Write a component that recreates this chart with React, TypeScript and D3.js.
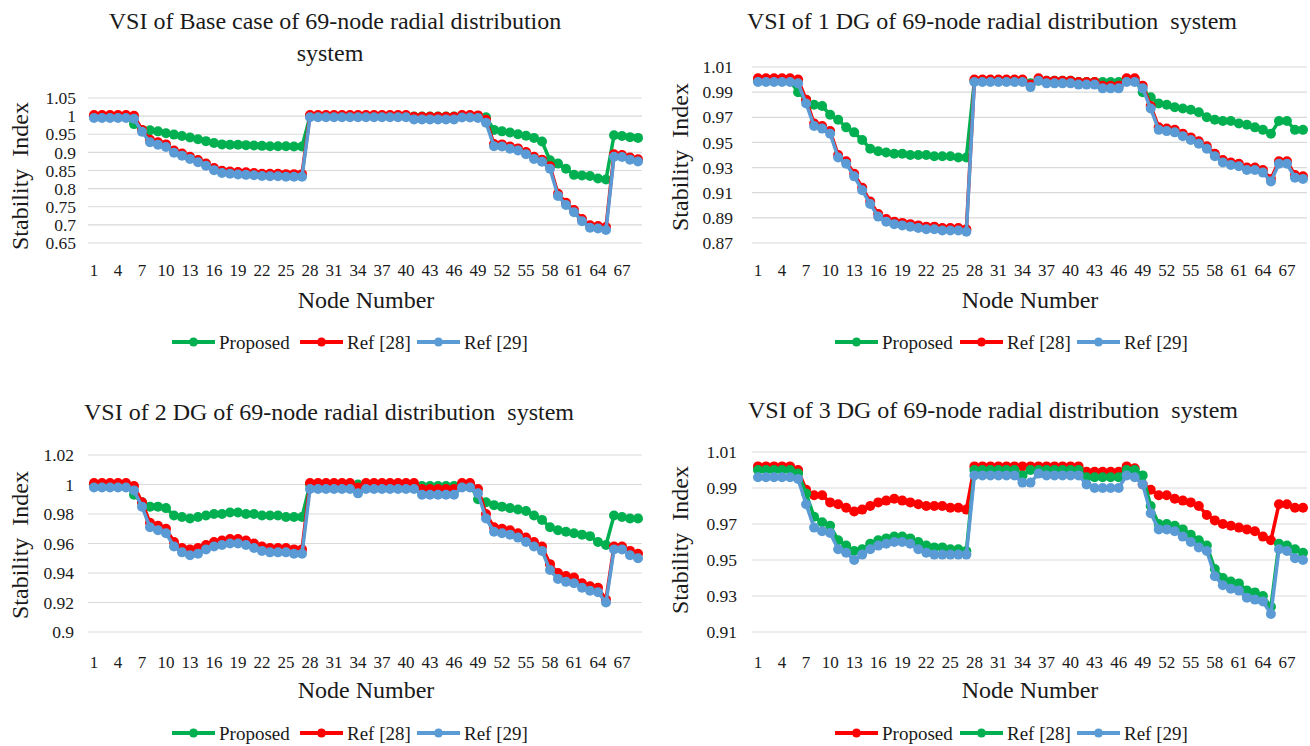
import React from "react";
import * as d3 from "d3";

// node numbers 1..69 and the labels shown on the x axis
const nodes = d3.range(1, 70);
const nodeTicks = [1, 4, 7, 10, 13, 16, 19, 22, 25, 28, 31, 34, 37, 40, 43, 46, 49, 52, 55, 58, 61, 64, 67];

const baseTicks = [0.65, 0.7, 0.75, 0.8, 0.85, 0.9, 0.95, 1, 1.05];
const oneDgTicks = [0.87, 0.89, 0.91, 0.93, 0.95, 0.97, 0.99, 1.01];
const twoDgTicks = [0.9, 0.92, 0.94, 0.96, 0.98, 1, 1.02];
const threeDgTicks = [0.91, 0.93, 0.95, 0.97, 0.99, 1.01];

// base case
const baseProposed = [
  1.0, 1.0, 1.0, 1.0, 1.0, 0.978, 0.962, 0.961, 0.958, 0.953,
  0.949, 0.945, 0.941, 0.936, 0.931, 0.926, 0.922, 0.921, 0.921, 0.92,
  0.919, 0.918, 0.917, 0.917, 0.917, 0.916, 0.916, 1.0, 1.0, 1.0,
  1.0, 1.0, 1.0, 1.0, 1.0, 1.0, 1.0, 1.0, 1.0, 1.0,
  0.999, 0.999, 0.999, 0.999, 0.999, 0.999, 1.0, 1.0, 1.0, 0.997,
  0.962, 0.958, 0.955, 0.95, 0.946, 0.94, 0.93, 0.878, 0.869, 0.855,
  0.838, 0.836, 0.835, 0.828, 0.825, 0.947, 0.945, 0.942, 0.94,
];
const baseRef28 = [
  1.003, 1.003, 1.003, 1.003, 1.003, 1.001, 0.962, 0.935, 0.928, 0.922,
  0.905, 0.897, 0.888, 0.879, 0.869, 0.857, 0.849, 0.847, 0.846, 0.845,
  0.843, 0.841, 0.841, 0.841, 0.84, 0.84, 0.84, 1.003, 1.003, 1.003,
  1.003, 1.003, 1.003, 1.003, 1.003, 1.003, 1.003, 1.003, 1.003, 1.003,
  0.998, 0.998, 0.998, 0.998, 0.998, 0.998, 1.003, 1.003, 1.002, 0.99,
  0.923, 0.922, 0.916, 0.911, 0.901, 0.888, 0.88, 0.862, 0.786, 0.761,
  0.741, 0.716, 0.699, 0.697, 0.694, 0.895, 0.893, 0.886, 0.881,
];
const baseRef29 = [
  0.995, 0.995, 0.995, 0.995, 0.995, 0.993, 0.957, 0.928, 0.921, 0.915,
  0.899, 0.891, 0.882, 0.873, 0.863, 0.851, 0.843, 0.841, 0.839, 0.838,
  0.837, 0.835, 0.834, 0.834, 0.833, 0.833, 0.833, 0.997, 0.997, 0.997,
  0.997, 0.997, 0.997, 0.997, 0.997, 0.997, 0.997, 0.997, 0.997, 0.997,
  0.991, 0.991, 0.991, 0.991, 0.991, 0.991, 0.996, 0.996, 0.995, 0.982,
  0.917, 0.916, 0.91, 0.905, 0.895, 0.882, 0.874, 0.855, 0.78, 0.755,
  0.735, 0.71, 0.692, 0.69, 0.686, 0.888, 0.887, 0.88, 0.875,
];

// 1 DG
const oneDgProposed = [
  0.999, 0.999, 0.999, 0.999, 0.999, 0.99, 0.984, 0.98, 0.979, 0.972,
  0.968, 0.962, 0.958, 0.952, 0.945, 0.943, 0.942, 0.941, 0.941, 0.94,
  0.94, 0.94, 0.939, 0.939, 0.939, 0.938, 0.938, 0.999, 0.999, 0.999,
  0.999, 0.999, 0.999, 0.999, 0.997, 0.999, 0.999, 0.999, 0.999, 0.999,
  0.998, 0.998, 0.998, 0.998, 0.998, 0.998, 1.0, 1.0, 0.99, 0.986,
  0.981, 0.98, 0.978, 0.977, 0.976, 0.974, 0.97, 0.968, 0.967, 0.967,
  0.965, 0.964, 0.962, 0.96, 0.957, 0.967, 0.967, 0.96, 0.96,
];
const oneDgRef28 = [
  1.001, 1.001, 1.001, 1.001, 1.001, 1.0, 0.984, 0.965, 0.963, 0.959,
  0.94, 0.935, 0.925, 0.914, 0.903, 0.893, 0.889, 0.887, 0.886, 0.885,
  0.884, 0.883, 0.883, 0.882, 0.882, 0.882, 0.881, 1.0, 1.0, 1.0,
  1.0, 1.0, 1.0, 1.0, 0.996, 1.001, 0.999, 0.999, 0.999, 0.999,
  0.998, 0.998, 0.998, 0.995, 0.995, 0.995, 1.001, 1.001, 0.995, 0.979,
  0.962, 0.961, 0.96, 0.957, 0.954, 0.951, 0.947, 0.941, 0.936, 0.934,
  0.933, 0.93, 0.93, 0.928, 0.921, 0.935, 0.935, 0.924, 0.923,
];
const oneDgRef29 = [
  0.998, 0.998, 0.998, 0.998, 0.998, 0.997, 0.981, 0.963, 0.961, 0.957,
  0.938, 0.933, 0.923, 0.912, 0.901, 0.891, 0.887, 0.885, 0.884, 0.883,
  0.882, 0.881, 0.881, 0.88, 0.88, 0.88, 0.879, 0.998, 0.998, 0.998,
  0.998, 0.998, 0.998, 0.998, 0.994, 0.999, 0.997, 0.997, 0.997, 0.997,
  0.996, 0.996, 0.996, 0.993, 0.993, 0.993, 0.998, 0.998, 0.993, 0.977,
  0.96, 0.959, 0.958, 0.955, 0.952, 0.949, 0.945, 0.939, 0.934, 0.932,
  0.931, 0.928, 0.928, 0.926, 0.919, 0.933, 0.933, 0.922, 0.921,
];

// 2 DG
const twoDgProposed = [
  1.0, 1.0, 1.0, 1.0, 1.0, 0.993, 0.988, 0.985, 0.985, 0.984,
  0.979, 0.978, 0.977, 0.978, 0.979, 0.98, 0.98, 0.981, 0.981, 0.98,
  0.98, 0.979, 0.979, 0.979, 0.978, 0.978, 0.978, 1.0, 1.0, 1.0,
  1.0, 1.0, 1.0, 1.0, 1.0, 1.0, 1.0, 1.0, 1.0, 1.0,
  1.0, 0.999, 0.999, 0.999, 0.999, 0.999, 1.0, 1.0, 0.99, 0.988,
  0.986, 0.985, 0.984, 0.983, 0.982, 0.979, 0.976, 0.971, 0.969, 0.968,
  0.967, 0.966, 0.965, 0.961, 0.959, 0.979, 0.978, 0.977, 0.977,
];
const twoDgRef28 = [
  1.001, 1.001, 1.001, 1.001, 1.001, 0.999, 0.988, 0.974, 0.972, 0.97,
  0.961, 0.957, 0.956, 0.957, 0.959, 0.961, 0.962, 0.963, 0.963, 0.962,
  0.96, 0.958, 0.957, 0.957, 0.957, 0.956, 0.956, 1.001, 1.001, 1.001,
  1.001, 1.001, 1.001, 0.998, 1.001, 1.001, 1.001, 1.001, 1.001, 1.001,
  1.001, 0.997, 0.997, 0.997, 0.997, 0.997, 1.001, 1.001, 0.997, 0.98,
  0.971, 0.97, 0.969, 0.967, 0.964, 0.961, 0.958, 0.946, 0.94, 0.938,
  0.937, 0.933, 0.931, 0.93, 0.922, 0.958, 0.958, 0.955, 0.953,
];
const twoDgRef29 = [
  0.998, 0.998, 0.998, 0.998, 0.998, 0.996, 0.985, 0.971, 0.969, 0.967,
  0.958, 0.954, 0.952, 0.953, 0.956, 0.958, 0.959, 0.96, 0.96, 0.959,
  0.957, 0.955, 0.954, 0.954, 0.954, 0.953, 0.953, 0.997, 0.997, 0.997,
  0.997, 0.997, 0.997, 0.994, 0.997, 0.997, 0.997, 0.997, 0.997, 0.997,
  0.997, 0.993, 0.993, 0.993, 0.993, 0.993, 0.998, 0.998, 0.994, 0.977,
  0.968, 0.967, 0.966, 0.964, 0.961, 0.958, 0.955, 0.942, 0.936, 0.934,
  0.933, 0.93, 0.928, 0.927, 0.92, 0.956, 0.956, 0.952, 0.95,
];

// 3 DG
const threeDgProposed = [
  1.002, 1.002, 1.002, 1.002, 1.002, 1.0, 0.989, 0.986, 0.986, 0.982,
  0.981, 0.979, 0.977, 0.978, 0.98, 0.982, 0.983, 0.984, 0.983, 0.982,
  0.981, 0.98, 0.98, 0.98, 0.979, 0.979, 0.978, 1.002, 1.002, 1.002,
  1.002, 1.002, 1.002, 1.002, 1.002, 1.002, 1.002, 1.002, 1.002, 1.002,
  1.002, 0.999, 0.999, 0.999, 0.999, 0.999, 1.002, 1.001, 0.992, 0.989,
  0.986, 0.986, 0.984, 0.983, 0.982, 0.98, 0.975, 0.972, 0.97, 0.969,
  0.968, 0.967, 0.966, 0.963, 0.961, 0.981, 0.981, 0.979, 0.979,
];
const threeDgRef28 = [
  1.0, 1.0, 1.0, 1.0, 1.0, 0.998, 0.987, 0.974, 0.971, 0.969,
  0.961, 0.958, 0.955, 0.956, 0.959, 0.961, 0.962, 0.963, 0.963, 0.962,
  0.96, 0.958, 0.957, 0.957, 0.956, 0.956, 0.955, 1.0, 1.0, 1.0,
  1.0, 1.0, 1.0, 0.997, 1.0, 1.0, 1.0, 1.0, 1.0, 1.0,
  1.0, 0.996, 0.996, 0.996, 0.996, 0.996, 1.0, 1.0, 0.997, 0.98,
  0.97, 0.97, 0.969, 0.967, 0.964, 0.961, 0.958, 0.945, 0.94, 0.938,
  0.937, 0.933, 0.932, 0.93, 0.924, 0.959, 0.958, 0.956, 0.954,
];
const threeDgRef29 = [
  0.996, 0.996, 0.996, 0.996, 0.996, 0.995, 0.981, 0.968, 0.966, 0.965,
  0.956, 0.954, 0.95, 0.953, 0.956, 0.958, 0.959, 0.96, 0.96, 0.959,
  0.956, 0.954, 0.953, 0.953, 0.953, 0.953, 0.953, 0.997, 0.997, 0.997,
  0.997, 0.997, 0.997, 0.993, 0.993, 0.998, 0.997, 0.997, 0.997, 0.997,
  0.997, 0.992, 0.99, 0.99, 0.99, 0.99, 0.997, 0.996, 0.992, 0.976,
  0.967, 0.967, 0.966, 0.963, 0.96, 0.957, 0.955, 0.941, 0.936, 0.934,
  0.933, 0.929, 0.928, 0.927, 0.92, 0.956, 0.955, 0.951, 0.95,
];

const GREEN = "#00B050";
const RED = "#FF0000";
const BLUE = "#5B9BD5";
const GRID = "#D9D9D9";
const FONT = "Liberation Serif, Times New Roman, serif";

type Series = { name: string; values: number[]; color: string };
type PanelCfg = {
  titles: { text: string; x: number; y: number }[];
  left: number;
  right: number;
  top: number;
  bottom: number;
  yDomain: [number, number];
  yTicks: number[];
  tickX: number;
  yTitle: [number, number];
  xTitle: [number, number];
  xTickY: number;
  legendY: number;
  legendX: number[];
  series: Series[];
};

const panels: PanelCfg[] = [
  {
    titles: [
      { text: "VSI of Base case of 69-node radial distribution", x: 335, y: 29 },
      { text: "system", x: 330, y: 61 },
    ],
    left: 90, right: 642, top: 98, bottom: 243,
    yDomain: [0.65, 1.05], yTicks: baseTicks, tickX: 76,
    yTitle: [20, 176], xTitle: [366, 308], xTickY: 276,
    legendY: 342, legendX: [172, 300, 417],
    series: [
      { name: "Proposed", values: baseProposed, color: GREEN },
      { name: "Ref [28]", values: baseRef28, color: RED },
      { name: "Ref [29]", values: baseRef29, color: BLUE },
    ],
  },
  {
    titles: [{ text: "VSI of 1 DG of 69-node radial distribution  system", x: 992, y: 29 }],
    left: 754, right: 1307, top: 67, bottom: 243,
    yDomain: [0.87, 1.01], yTicks: oneDgTicks, tickX: 733,
    yTitle: [680, 157], xTitle: [1030, 308], xTickY: 276,
    legendY: 342, legendX: [835, 960, 1077],
    series: [
      { name: "Proposed", values: oneDgProposed, color: GREEN },
      { name: "Ref [28]", values: oneDgRef28, color: RED },
      { name: "Ref [29]", values: oneDgRef29, color: BLUE },
    ],
  },
  {
    titles: [{ text: "VSI of 2 DG of 69-node radial distribution  system", x: 329, y: 420 }],
    left: 90, right: 642, top: 455, bottom: 632,
    yDomain: [0.9, 1.02], yTicks: twoDgTicks, tickX: 74,
    yTitle: [20, 545], xTitle: [366, 698], xTickY: 668,
    legendY: 733, legendX: [172, 300, 417],
    series: [
      { name: "Proposed", values: twoDgProposed, color: GREEN },
      { name: "Ref [28]", values: twoDgRef28, color: RED },
      { name: "Ref [29]", values: twoDgRef29, color: BLUE },
    ],
  },
  {
    titles: [{ text: "VSI of 3 DG of 69-node radial distribution  system", x: 993, y: 418 }],
    left: 754, right: 1307, top: 452, bottom: 632,
    yDomain: [0.91, 1.01], yTicks: threeDgTicks, tickX: 737,
    yTitle: [680, 540], xTitle: [1030, 698], xTickY: 668,
    legendY: 733, legendX: [835, 960, 1077],
    series: [
      { name: "Proposed", values: threeDgProposed, color: RED },
      { name: "Ref [28]", values: threeDgRef28, color: GREEN },
      { name: "Ref [29]", values: threeDgRef29, color: BLUE },
    ],
  },
];

const fmt = (v: number) => String(Number(v.toFixed(2)));

const txt = { fontFamily: FONT, whiteSpace: "pre" as const };

const Panel = ({ cfg }: { cfg: PanelCfg }) => {
  const x = d3.scaleBand<number>().domain(nodes).range([cfg.left, cfg.right]);
  const cx = (n: number) => (x(n) as number) + x.bandwidth() / 2;
  const y = d3.scaleLinear().domain(cfg.yDomain).range([cfg.bottom, cfg.top]);
  const line = d3
    .line<number>()
    .x((_, i) => cx(nodes[i]))
    .y((v) => y(v));

  return (
    <g>
      {cfg.titles.map((t) => (
        <text key={t.text} x={t.x} y={t.y} textAnchor="middle" fontSize={24} style={txt}>
          {t.text}
        </text>
      ))}
      {cfg.yTicks.map((t) => (
        <g key={t}>
          <line x1={cfg.left - 2} x2={cfg.right} y1={y(t)} y2={y(t)} stroke={GRID} strokeWidth={1.2} />
          <text x={cfg.tickX} y={y(t)} dy="0.35em" textAnchor="end" fontSize={17.5} style={txt}>
            {fmt(t)}
          </text>
        </g>
      ))}
      {nodeTicks.map((n) => (
        <text key={n} x={cx(n)} y={cfg.xTickY} textAnchor="middle" fontSize={17} style={txt}>
          {n}
        </text>
      ))}
      <text
        transform={`translate(${cfg.yTitle[0]},${cfg.yTitle[1]}) rotate(-90)`}
        dy="0.35em"
        textAnchor="middle"
        fontSize={24}
        style={txt}
      >
        {"Stability  Index"}
      </text>
      <text x={cfg.xTitle[0]} y={cfg.xTitle[1]} textAnchor="middle" fontSize={24} style={txt}>
        Node Number
      </text>
      {cfg.series.map((s) => (
        <g key={s.name}>
          <path d={line(s.values) || ""} fill="none" stroke={s.color} strokeWidth={3.5} />
          {s.values.map((v, i) => (
            <circle key={i} cx={cx(nodes[i])} cy={y(v)} r={5} fill={s.color} />
          ))}
        </g>
      ))}
      {cfg.series.map((s, i) => (
        <g key={s.name} transform={`translate(${cfg.legendX[i]},${cfg.legendY})`}>
          <line x1={0} x2={43} y1={0} y2={0} stroke={s.color} strokeWidth={4} />
          <circle cx={21.5} cy={0} r={4.5} fill={s.color} />
          <text x={47} y={0} dy="0.35em" fontSize={19} style={txt}>
            {s.name}
          </text>
        </g>
      ))}
    </g>
  );
};

export default function App() {
  return (
    <svg
      width={1310}
      height={746}
      style={{ position: "absolute", left: 0, top: 0, background: "#fff", fontFamily: FONT }}
      fill="#1a1a1a"
    >
      {panels.map((p, i) => (
        <Panel key={i} cfg={p} />
      ))}
    </svg>
  );
}
